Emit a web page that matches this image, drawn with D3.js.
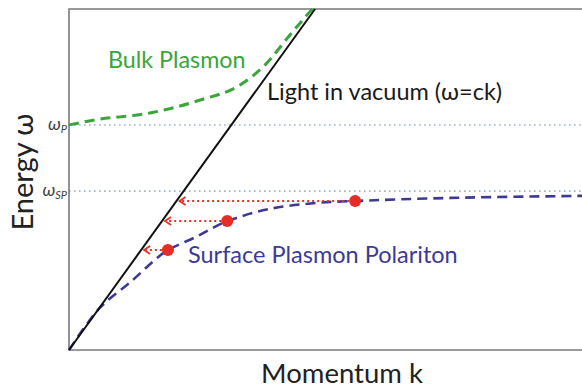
<!DOCTYPE html>
<html><head><meta charset="utf-8">
<script src="https://cdn.jsdelivr.net/npm/d3@7"></script>
<style>body{margin:0;background:#fff}svg{display:block}</style>
</head><body>
<svg id="c" width="582" height="390"></svg>
<script>
// Data (k, ω in normalized units; light line ω = c·k with c = 1)
const omegaP = 0.66;
const omegaSP = 0.466;
const lightK = [0, 1.0];
const lightW = [0, 1.0];
const bulkK = [0, 0.098, 0.329, 0.533, 0.695, 0.797, 0.898, 0.992];
const bulkW = [0.660, 0.674, 0.695, 0.733, 0.777, 0.836, 0.924, 1.003];
const sppK = [0, 0.126, 0.248, 0.358, 0.402, 0.520, 0.634, 0.817, 1.020, 1.163, 1.549, 2.085];
const sppW = [0, 0.124, 0.198, 0.270, 0.293, 0.333, 0.375, 0.414, 0.432, 0.437, 0.446, 0.452];
const dotK = [0.402, 0.643, 1.163];
const dotW = [0.293, 0.378, 0.437];
const labels = {x: "Momentum k", y: "Energy ω", bulk: "Bulk Plasmon", light: "Light in vacuum (ω=ck)", spp: "Surface Plasmon Polariton"};

const svg = d3.select("#c");
const x = d3.scaleLinear().domain([0, 2.085]).range([69, 582]);
const y = d3.scaleLinear().domain([0, 1]).range([350, 9]);
const font = "Lato, 'Open Sans', sans-serif";

// reference dotted lines
[omegaP, omegaSP].forEach(w => {
  svg.append("line").attr("x1", x(0)).attr("x2", x(2.085)).attr("y1", y(w)).attr("y2", y(w))
    .attr("stroke", "#9db3d8").attr("stroke-width", 1.6).attr("stroke-dasharray", "1.6,3.4");
});

// frame
svg.append("path").attr("d", `M${x(2.085)},${y(1)}H${x(0)}V${y(0)}H${x(2.085)}`)
  .attr("fill", "none").attr("stroke", "#7a7a7a").attr("stroke-width", 1.6);

const line = d3.line().x(d => x(d[0])).y(d => y(d[1]));
const curve = d3.line().x(d => x(d[0])).y(d => y(d[1])).curve(d3.curveMonotoneX);
const smooth = d3.line().x(d => x(d[0])).y(d => y(d[1])).curve(d3.curveCatmullRom.alpha(0.5));

// bulk plasmon
svg.append("path").attr("d", curve(bulkK.map((k, i) => [k, bulkW[i]])))
  .attr("fill", "none").attr("stroke", "#3aa53a").attr("stroke-width", 3).attr("stroke-dasharray", "10,6");

// SPP
svg.append("path").attr("d", smooth(sppK.map((k, i) => [k, sppW[i]])))
  .attr("fill", "none").attr("stroke", "#3c3a96").attr("stroke-width", 2.6).attr("stroke-dasharray", "10,6");

// light line
svg.append("path").attr("d", line(lightK.map((k, i) => [k, lightW[i]])))
  .attr("fill", "none").attr("stroke", "#111").attr("stroke-width", 2);

// red arrows
dotK.forEach((k, i) => {
  const w = dotW[i];
  const xt = x(w) + 3, yy = y(w);
  svg.append("line").attr("x1", x(k) - 6).attr("x2", xt + 2).attr("y1", yy).attr("y2", yy)
    .attr("stroke", "#e8302a").attr("stroke-width", 2).attr("stroke-dasharray", "2,3");
  svg.append("path").attr("d", `M${xt + 6},${yy - 4}L${xt},${yy}L${xt + 6},${yy + 4}`)
    .attr("fill", "none").attr("stroke", "#e8302a").attr("stroke-width", 1.8);
  svg.append("circle").attr("cx", x(k)).attr("cy", yy).attr("r", 6).attr("fill", "#e52d27");
});

// labels
svg.append("text").attr("x", 108).attr("y", 68).attr("font-family", font).attr("font-size", 23.3)
  .attr("fill", "#3aa53a").text(labels.bulk);
svg.append("text").attr("x", 267).attr("y", 100).attr("font-family", font).attr("font-size", 23.5)
  .attr("fill", "#1a1a1a").text(labels.light);
svg.append("text").attr("x", 188).attr("y", 263).attr("font-family", font).attr("font-size", 23.5)
  .attr("fill", "#3c3a96").text(labels.spp);
svg.append("text").attr("x", 342).attr("y", 383).attr("text-anchor", "middle").attr("font-family", font)
  .attr("font-size", 27.5).attr("fill", "#222").text(labels.x);
svg.append("text").attr("transform", "translate(33,172) rotate(-90)").attr("text-anchor", "middle")
  .attr("font-family", font).attr("font-size", 29).attr("fill", "#222").text(labels.y);

// omega tick labels
function wlabel(w, sub) {
  const t = svg.append("text").attr("x", 67).attr("y", y(w) + 5).attr("text-anchor", "end")
    .attr("font-family", font).attr("font-size", 18).attr("fill", "#444").attr("font-style", "italic");
  t.append("tspan").text("ω");
  t.append("tspan").attr("font-size", 11).attr("dy", 3).text(sub);
}
wlabel(omegaP, "P");
wlabel(omegaSP, "SP");
</script>
</body></html>
